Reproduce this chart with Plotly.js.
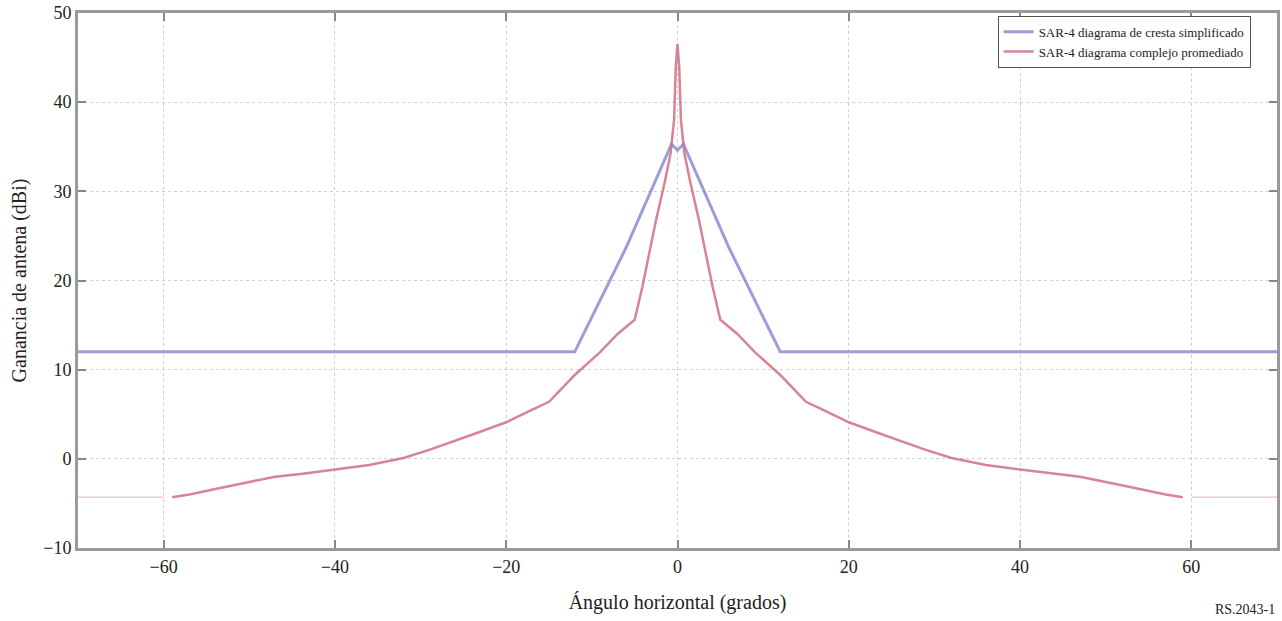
<!DOCTYPE html>
<html>
<head>
<meta charset="utf-8">
<script src="https://cdn.plot.ly/plotly-3.0.1.min.js"></script>
<style>html,body{margin:0;padding:0;background:#fff;}#chart{width:1282px;height:621px;}</style>
</head>
<body>
<div id="chart"></div>
<script>
// Blue: SAR-4 simplified crest pattern
const blueX = [-70, -12, -6, -0.7, 0, 0.7, 6, 12, 70];
const blueY = [12, 12, 23.7, 35.3, 34.6, 35.3, 23.7, 12, 12];

// Red: SAR-4 averaged complex pattern (main part)
const redX = [-59, -57, -52, -47, -44, -40, -36, -32, -29, -24, -20, -17, -15, -12, -9, -7, -5, -4.1, -2.5, -1.5, -0.8, -0.4, -0.2, 0,
              0.2, 0.4, 0.8, 1.5, 2.5, 4.1, 5, 7, 9, 12, 15, 17, 20, 24, 29, 32, 36, 40, 44, 47, 52, 57, 59];
const redY = [-4.3, -4.0, -3.0, -2.0, -1.7, -1.2, -0.7, 0.1, 1.0, 2.7, 4.1, 5.5, 6.4, 9.4, 12.0, 14.0, 15.6, 19.3, 26.8, 31, 34.3, 38, 44, 46.5,
              44, 38, 34.3, 31, 26.8, 19.3, 15.6, 14.0, 12.0, 9.4, 6.4, 5.5, 4.1, 2.7, 1.0, 0.1, -0.7, -1.2, -1.7, -2.0, -3.0, -4.0, -4.3];

// Red thin tails beyond ±60
const tailLeftX = [-70, -60];
const tailLeftY = [-4.3, -4.3];
const tailRightX = [60, 70];
const tailRightY = [-4.3, -4.3];

const seriesNames = ['SAR-4 diagrama de cresta simplificado', 'SAR-4 diagrama complejo promediado'];

const blueC = 'rgba(140,140,210,0.85)';
const redC = 'rgba(208,110,130,0.85)';

const traces = [
  {x: blueX, y: blueY, mode: 'lines', name: seriesNames[0], line: {color: blueC, width: 3}},
  {x: redX, y: redY, mode: 'lines', name: seriesNames[1], line: {color: redC, width: 2.5}},
  {x: tailLeftX, y: tailLeftY, mode: 'lines', showlegend: false, line: {color: 'rgba(240,165,175,0.9)', width: 1}},
  {x: tailRightX, y: tailRightY, mode: 'lines', showlegend: false, line: {color: 'rgba(240,165,175,0.9)', width: 1}}
];

const fontFam = '"Liberation Serif", "Times New Roman", serif';

const layout = {
  width: 1282, height: 621,
  margin: {l: 78, r: 5, t: 13, b: 73},
  paper_bgcolor: '#fff', plot_bgcolor: '#fff',
  font: {family: fontFam, size: 18, color: '#222'},
  showlegend: true,
  legend: {
    x: 0.767, y: 0.995, xanchor: 'left', yanchor: 'top',
    bgcolor: '#fff', bordercolor: '#555', borderwidth: 1,
    font: {family: fontFam, size: 13, color: '#222'},
    tracegroupgap: 0
  },
  xaxis: {
    range: [-70, 70], tick0: 0, dtick: 20,
    showgrid: true, gridcolor: '#cfcfcf', griddash: 'dot', gridwidth: 1,
    zeroline: false,
    showline: true, linecolor: '#9a9a9a', linewidth: 3, mirror: 'ticks',
    ticks: 'inside', ticklen: 8, tickcolor: '#888', tickwidth: 2,
    tickfont: {family: fontFam, size: 18},
    title: {text: 'Ángulo horizontal (grados)', font: {family: fontFam, size: 20}, standoff: 20}
  },
  yaxis: {
    range: [-10, 50], tick0: 0, dtick: 10,
    showgrid: true, gridcolor: '#cfcfcf', griddash: 'dot', gridwidth: 1,
    zeroline: false,
    showline: true, linecolor: '#9a9a9a', linewidth: 3, mirror: 'ticks',
    ticks: 'inside', ticklen: 8, tickcolor: '#888', tickwidth: 2,
    tickfont: {family: fontFam, size: 18},
    title: {text: 'Ganancia de antena (dBi)', font: {family: fontFam, size: 20}, standoff: 12}
  },
  annotations: [
    {text: 'RS.2043-1', xref: 'paper', yref: 'paper', x: 1.0, y: -0.133, xanchor: 'right', yanchor: 'bottom',
     showarrow: false, font: {family: fontFam, size: 14, color: '#222'}}
  ]
};

Plotly.newPlot('chart', traces, layout, {displayModeBar: false, staticPlot: true});
</script>
</body>
</html>
